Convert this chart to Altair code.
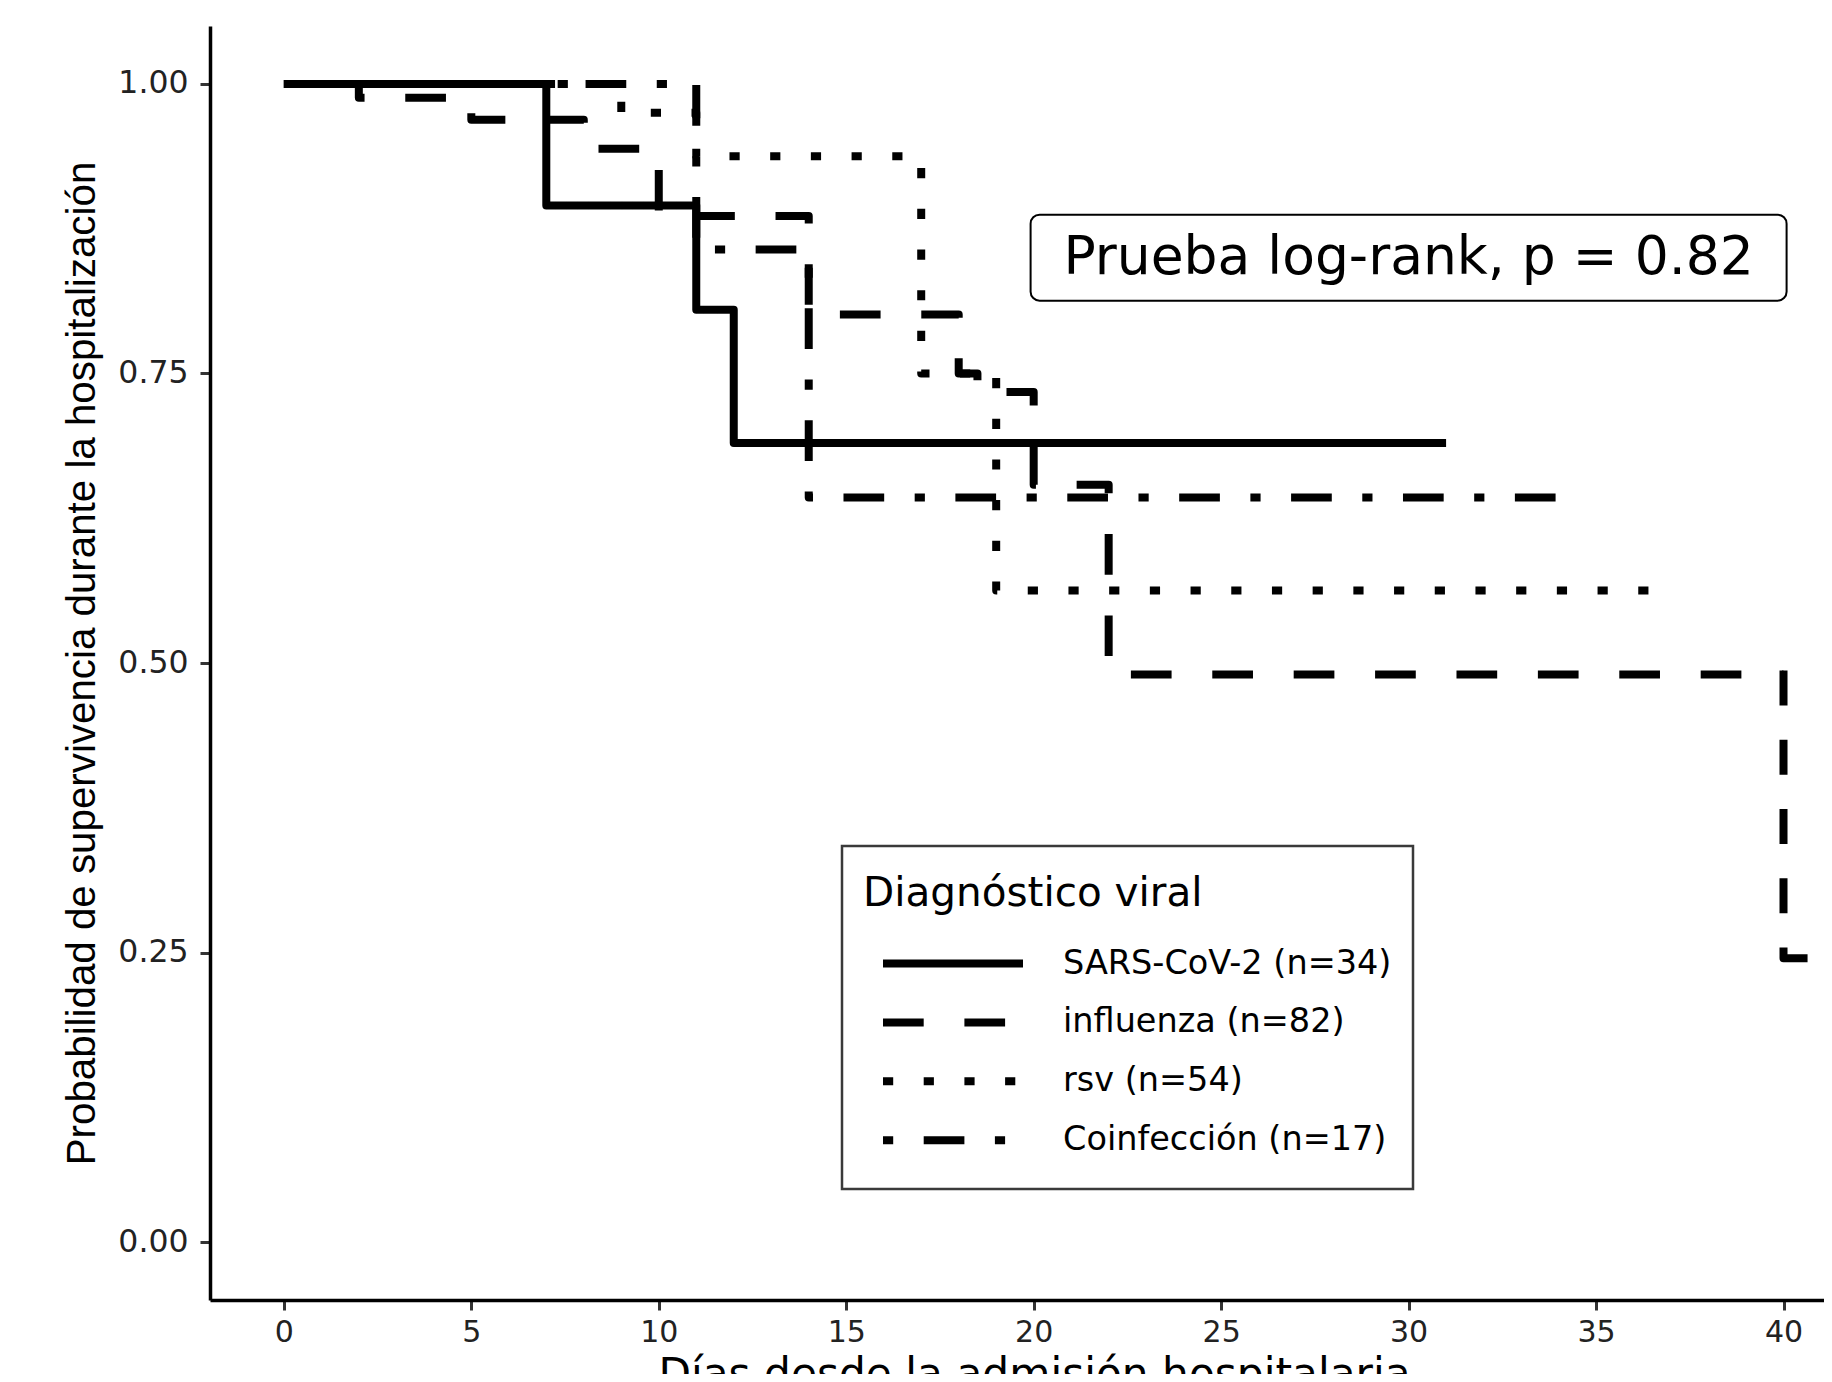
import altair as alt
import pandas as pd

# ---------------- data ----------------
groups = ["SARS-CoV-2 (n=34)", "influenza (n=82)", "rsv (n=54)", "Coinfección (n=17)"]

sars_t = [0, 7, 11, 12, 31]
sars_s = [1.0, 0.895, 0.805, 0.690, 0.690]

flu_t = [0, 2, 5, 8, 10, 14, 18, 18.5, 20, 22, 40, 40.77]
flu_s = [1.0, 0.988, 0.969, 0.944, 0.886, 0.801, 0.750, 0.734, 0.654, 0.490, 0.245, 0.245]

rsv_t = [0, 9, 11, 17, 19, 36.5]
rsv_s = [1.0, 0.975, 0.9375, 0.750, 0.5625, 0.5625]

coinf_t = [0, 11, 14, 34.2]
coinf_s = [1.0, 0.857, 0.643, 0.643]

x_ticks = [0, 5, 10, 15, 20, 25, 30, 35, 40]
y_ticks = [0.0, 0.25, 0.50, 0.75, 1.00]

ann_text = ["Prueba log-rank, p = 0.82"]
ann_x = [30]
ann_y = [0.85]

# ---------------- tables ----------------
def table(g, ts, ss):
    return pd.DataFrame({"grupo": [g] * len(ts), "dias": ts, "surv": ss})

df_sars = table(groups[0], sars_t, sars_s)
k = flu_t.index(40)
df_flu_a = table(groups[1], flu_t[:k] + [flu_t[k]], flu_s[:k] + [flu_s[k - 1]])
df_flu_b = table(groups[1], [flu_t[k]] + flu_t[k:], [flu_s[k - 1]] + flu_s[k:])
df_rsv = table(groups[2], rsv_t, rsv_s)
df_coinf = table(groups[3], coinf_t, coinf_s)
ann = pd.DataFrame({"x": ann_x, "y": ann_y, "text": ann_text})

dash_range = [[1, 0], [40.7, 40.7], [10.2, 30.5], [10.2, 30.5, 40.7, 30.5]]

W, H = 1614, 1274
xscale = alt.Scale(domain=[-1.97, 41.08], nice=False, zero=False)
yscale = alt.Scale(domain=[-0.05, 1.05], nice=False, zero=False)

x_enc = alt.X("dias:Q", scale=xscale,
              axis=alt.Axis(values=x_ticks, title="Días desde la admisión hospitalaria",
                            titleX=824, titleY=87, titleBaseline="alphabetic",
                            titleFont="DejaVu Sans", titleFontSize=42.3,
                            labelPadding=7, format="d"))
y_enc = alt.Y("surv:Q", scale=yscale,
              axis=alt.Axis(values=y_ticks, format=".2f",
                            title="Probabilidad de supervivencia durante la hospitalización",
                            titleX=-116, titleY=H / 2, titleAngle=270, titleBaseline="alphabetic",
                            titleAlign="center", titleFont="Liberation Sans", titleFontSize=40.3,
                            labelPadding=12, labelFontSize=31.5))
dash_enc = alt.StrokeDash(
    "grupo:N",
    scale=alt.Scale(domain=groups, range=dash_range),
    legend=alt.Legend(
        title="Diagnóstico viral", orient="none", legendX=632, legendY=820,
        symbolType="stroke", symbolSize=19600, symbolStrokeWidth=8,
        symbolStrokeColor="black", clipHeight=54, rowPadding=4.9,
        titlePadding=29, titleBaseline="line-top", titleLineHeight=54.5,
        padding=21, symbolOffset=16, labelOffset=36,
        labelFontSize=33.5, titleFontSize=40.5, labelFont="DejaVu Sans",
        titleFont="DejaVu Sans", titleFontWeight="normal", titleLimit=0,
        strokeColor="#3a3a3a", fillColor="white",
        labelColor="black", titleColor="black", labelLimit=0,
    ),
)

def km_layer(data, offset):
    return alt.Chart(data).mark_line(
        interpolate="step-after", strokeWidth=8, color="black",
        strokeJoin="round", strokeDashOffset=offset, clip=True
    ).encode(x=x_enc, y=y_enc, strokeDash=dash_enc)

l_sars = km_layer(df_sars, 0)
l_flu = km_layer(df_flu_a, 27.5)
l_rsv = km_layer(df_rsv, 11.1)
l_coinf = km_layer(df_coinf, 74.7)
# last drop of influenza: the reference's vertical dashes are shorter
l_flu_b = alt.Chart(df_flu_b).mark_line(
    interpolate="step-after", strokeWidth=8, color="black", strokeJoin="round",
    strokeCap="square", strokeDash=[27, 42.2], clip=True
).encode(x=x_enc, y=y_enc)

box = alt.Chart(ann).mark_rect(
    width=756, height=86, cornerRadius=9, fill="white", stroke="black", strokeWidth=2
).encode(x=alt.X("x:Q", scale=xscale), y=alt.Y("y:Q", scale=yscale))

txt = alt.Chart(ann).mark_text(
    font="DejaVu Sans", fontSize=53.5, color="black", baseline="middle", align="center"
).encode(x=alt.X("x:Q", scale=xscale), y=alt.Y("y:Q", scale=yscale), text="text:N")

chart = alt.layer(l_sars, l_flu, l_rsv, l_coinf, l_flu_b, box, txt).properties(
    width=W, height=H,
    autosize=alt.AutoSizeParams(type="none"),
    padding={"left": 202, "top": 18, "right": 0, "bottom": 74},
).configure_view(strokeWidth=0).configure_axis(
    grid=False, domainColor="black", domainWidth=3.5, tickColor="#333333",
    tickWidth=3, tickSize=10, labelFont="DejaVu Sans", labelFontSize=30,
    labelColor="#222222", titleColor="black", titleFontWeight="normal",
).configure_legend(strokeWidth=2.5)

chart.save("out.html", embed_options={"renderer": "svg", "actions": False})
